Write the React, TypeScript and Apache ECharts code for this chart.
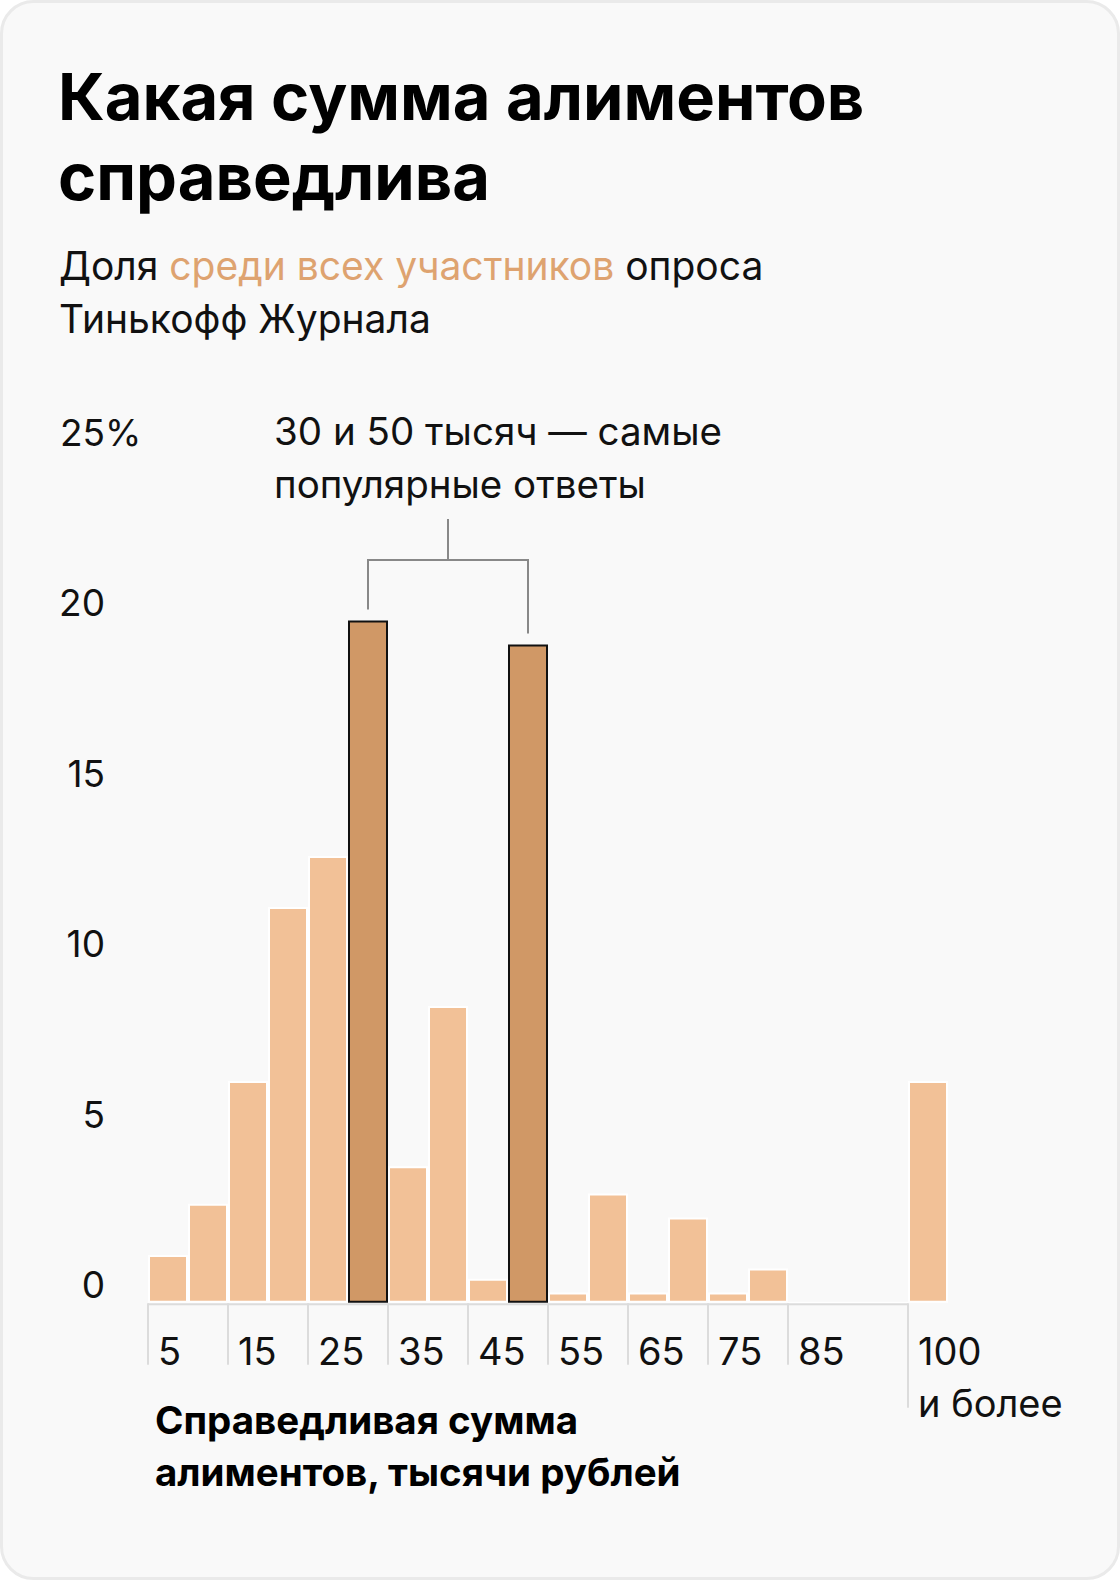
import React, { useEffect, useRef } from "react";
import * as echarts from "echarts";

const categories = ["5", "10", "15", "20", "25", "30", "35", "40", "45", "50", "55", "60", "65", "70", "75", "80", "85", "90", "95", "100"];
const shares = [1.4, 2.9, 6.5, 11.6, 13.1, 20.0, 4.0, 8.7, 0.7, 19.3, 0.3, 3.2, 0.3, 2.5, 0.3, 1.0, 0, 0, 0, 6.5];
const highlighted = ["30", "50"];
const yMax = 25;
const yStep = 5;
const xTickIndices = [0, 2, 4, 6, 8, 10, 12, 14, 16, 19];
const xTickLabels = ["5", "15", "25", "35", "45", "55", "65", "75", "85", "100\nи более"];

const titleText = "Какая сумма алиментов\nсправедлива";
const subtitleParts = ["Доля ", "среди всех участников", " опроса\nТинькофф Журнала"];
const noteText = "30 и 50 тысяч — самые\nпопулярные ответы";
const axisNameText = "Справедливая сумма\nалиментов, тысячи рублей";

const W = 1120;
const H = 1580;
const FONT = "Inter, Roboto, 'Noto Sans', sans-serif";
const LIGHT = "#F2C197";
const DARK = "#D09866";
const ACCENT = "#DEA370";

export default function App() {
  const ref = useRef<HTMLDivElement>(null);

  useEffect(() => {
    document.body.style.margin = "0";
    const el = ref.current;
    if (!el) return;
    const chart = echarts.init(el, null, { renderer: "svg", width: W, height: H });

    const labelFor = (v: number) => {
      const i = xTickIndices.indexOf(v);
      return i >= 0 ? xTickLabels[i] : "";
    };

    const option: any = {
      animation: false,
      backgroundColor: "transparent",
      grid: { left: 148, top: 450, width: 800, height: 852.7, containLabel: false },
      xAxis: [
        {
          type: "category",
          data: categories,
          gridIndex: 0,
          axisLine: { show: false },
          axisTick: { show: false },
          axisLabel: { show: false },
          splitLine: { show: false },
        },
        {
          type: "value",
          gridIndex: 0,
          position: "bottom",
          min: -0.25,
          max: 19.75,
          interval: 0.25,
          axisLine: { show: false },
          axisTick: { show: false },
          splitLine: { show: false },
          axisLabel: {
            formatter: labelFor,
            align: "left",
            verticalAlign: "top",
            margin: 22,
            fontSize: 38,
            lineHeight: 52,
            color: "#111",
            fontFamily: FONT,
            showMinLabel: true,
            showMaxLabel: true,
          },
        },
      ],
      yAxis: {
        type: "value",
        min: 0,
        max: yMax,
        interval: yStep,
        axisLine: { show: false },
        axisTick: { show: false },
        splitLine: { show: false },
        axisLabel: {
          formatter: (v: number) => (v === yMax ? `{n|${v}}{p|%}` : `{n|${v}}`),
          align: "left",
          verticalAlign: "bottom",
          lineHeight: 36,
          margin: 88,
          color: "#111",
          rich: {
            n: { fontSize: 37, fontFamily: FONT, lineHeight: 36, color: "#111", width: 45, align: "right" },
            p: { fontSize: 37, fontFamily: FONT, lineHeight: 36, color: "#111" },
          },
        },
      },
      series: [
        {
          type: "bar",
          xAxisIndex: 0,
          data: categories.map((c, i) => (highlighted.includes(c) ? "-" : shares[i])),
          barCategoryGap: "0%",
          barGap: "-100%",
          itemStyle: { color: LIGHT, borderColor: "#ffffff", borderWidth: 2 },
          z: 2,
        },
        {
          type: "bar",
          xAxisIndex: 0,
          data: categories.map((c, i) => (highlighted.includes(c) ? shares[i] : "-")),
          barCategoryGap: "0%",
          barGap: "-100%",
          itemStyle: { color: DARK, borderColor: "#111111", borderWidth: 2 },
          z: 3,
        },
      ],
    };
    chart.setOption(option);

    const cx = (i: number) => chart.convertToPixel({ xAxisIndex: 0 }, i) as number;
    const cy = (v: number) => chart.convertToPixel({ yAxisIndex: 0 }, v) as number;
    const bw = cx(1) - cx(0);
    const bx = (i: number) => cx(i) - bw / 2;
    const y0 = cy(0);

    const graphics: any[] = [
      {
        type: "rect",
        z: -10,
        silent: true,
        shape: { x: 1.5, y: 1.5, width: W - 3, height: H - 3, r: 32 },
        style: { fill: "#F9F9F9", stroke: "#EAEAEA", lineWidth: 3 },
      },
      {
        type: "text",
        z: 10,
        style: {
          x: 58,
          y: 56,
          text: titleText,
          fontFamily: FONT,
          fontSize: 65,
          fontWeight: "bold",
          lineHeight: 80,
          fill: "#000",
          verticalAlign: "top",
        },
      },
      {
        type: "text",
        z: 10,
        style: {
          x: 59,
          y: 239,
          text: `{n|${subtitleParts[0]}}{a|${subtitleParts[1]}}{n|${subtitleParts[2].split("\n")[0]}}\n{n|${subtitleParts[2].split("\n")[1]}}`,
          verticalAlign: "top",
          rich: {
            n: { fontFamily: FONT, fontSize: 39, lineHeight: 53, fill: "#111" },
            a: { fontFamily: FONT, fontSize: 39, lineHeight: 53, fill: ACCENT },
          },
        },
      },
      {
        type: "text",
        z: 10,
        style: {
          x: 274,
          y: 404,
          text: noteText,
          fontFamily: FONT,
          fontSize: 38.5,
          lineHeight: 53,
          fill: "#111",
          verticalAlign: "top",
        },
      },
      {
        type: "text",
        z: 10,
        style: {
          x: 155,
          y: 1394,
          text: axisNameText,
          fontFamily: FONT,
          fontSize: 38.5,
          fontWeight: "bold",
          lineHeight: 52,
          fill: "#000",
          verticalAlign: "top",
        },
      },
      {
        type: "line",
        z: 10,
        shape: { x1: bx(0), y1: y0 + 1.5, x2: bx(categories.length - 1), y2: y0 + 1.5 },
        style: { stroke: "#DCDCDC", lineWidth: 2 },
      },
    ];

    xTickIndices.forEach((i, k) => {
      const last = k === xTickIndices.length - 1;
      graphics.push({
        type: "line",
        z: 10,
        shape: { x1: bx(i), y1: y0 + 0.5, x2: bx(i), y2: y0 + (last ? 105 : 62) },
        style: { stroke: "#DCDCDC", lineWidth: 2 },
      });
    });

    const hIdx = highlighted.map((h) => categories.indexOf(h));
    const xa = cx(hIdx[0]);
    const xb = cx(hIdx[1]);
    const ya = cy(shares[hIdx[0]]) - 11;
    const yb = cy(shares[hIdx[1]]) - 11;
    const yBar = 560;
    const mid = (xa + xb) / 2;
    graphics.push({
      type: "polyline",
      z: 10,
      shape: { points: [[xa, ya], [xa, yBar], [xb, yBar], [xb, yb]] },
      style: { stroke: "#888", lineWidth: 2, fill: "none" },
    });
    graphics.push({
      type: "line",
      z: 10,
      shape: { x1: mid, y1: yBar, x2: mid, y2: 519 },
      style: { stroke: "#888", lineWidth: 2 },
    });

    chart.setOption({ graphic: graphics });

    return () => chart.dispose();
  }, []);

  return <div ref={ref} style={{ width: W, height: H, background: "#fff" }} />;
}
